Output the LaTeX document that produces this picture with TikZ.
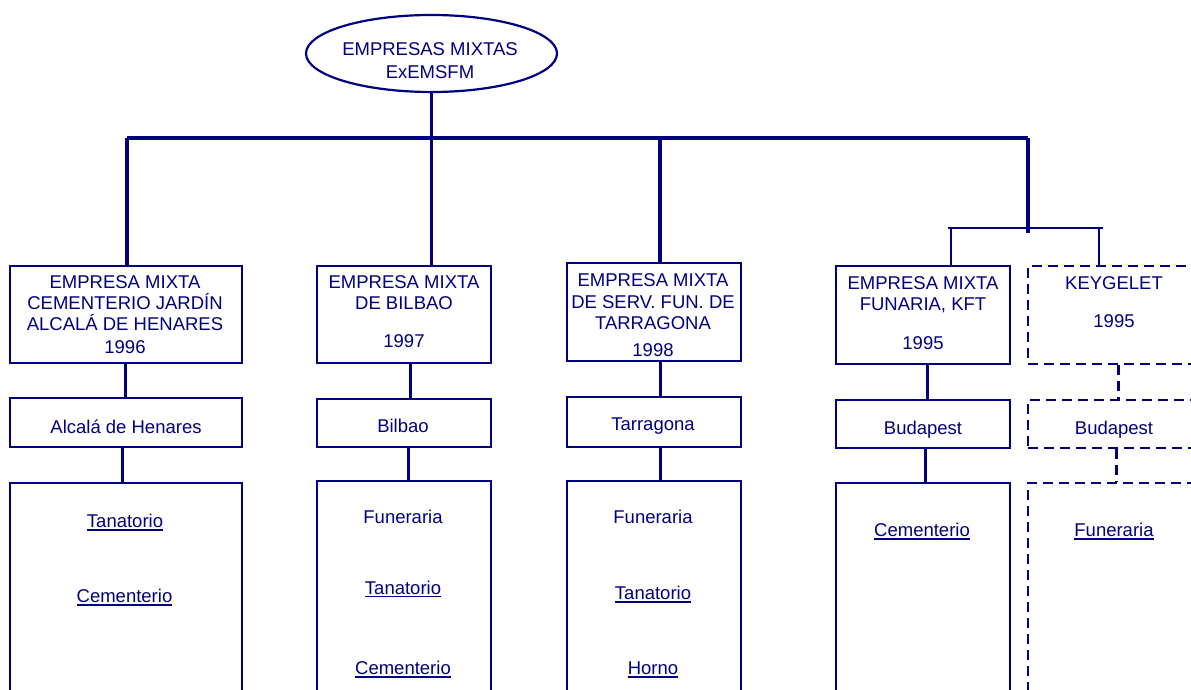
\documentclass[tikz,border=0pt]{standalone}
\usepackage{fontspec}
\setmainfont{Liberation Sans}
\usetikzlibrary{shapes.geometric}
\definecolor{navy}{RGB}{0,0,128}
\newcommand\ulnk[1]{\setbox0\hbox{#1}\rlap{\rule[-2.9pt]{\wd0}{1.5pt}}\box0}
\begin{document}
\begin{tikzpicture}[x=1pt,y=-1pt,
  box/.style={draw=navy, line width=2.9pt, rectangle, inner sep=0pt},
  dbox/.style={box, dash pattern=on 10pt off 6pt},
  lbl/.style={text=navy, font=\fontsize{18.5}{21}\selectfont, inner sep=0pt, align=center},
  one/.style={lbl, text height=13.25pt, text depth=0pt},
  ln/.style={draw=navy, line width=3pt},
  dln/.style={ln, dash pattern=on 10pt off 6pt},
  busline/.style={draw=navy, line width=3.4pt},
  subline/.style={draw=navy, line width=2.2pt}]
\useasboundingbox (0,0) rectangle (1191,690);
\clip (0,0) rectangle (1191,690);

% root
\node[ellipse, draw=navy, line width=2.2pt, minimum width=251pt, minimum height=77pt, inner sep=0pt] (E) at (431.5,53.5) {};
\node[lbl] (tE) at (430,60.75) {EMPRESAS MIXTAS\\[1.5pt]ExEMSFM};

% upper boxes
\node[box, minimum width=232pt, minimum height=97pt] (b1) at (126,314.5) {};
\node[box, minimum width=174pt, minimum height=97pt] (b2) at (404,314.5) {};
\node[box, minimum width=174pt, minimum height=98pt] (b3) at (654,312) {};
\node[box, minimum width=174pt, minimum height=98pt] (b4) at (923,315) {};
\node[dbox, minimum width=174pt, minimum height=98pt] (b5) at (1115,315) {};

\node[lbl] (t1) at (125,314.5) {EMPRESA MIXTA\\CEMENTERIO JARDÍN\\ALCALÁ DE HENARES\\[2pt]1996};
\node[lbl] (t2) at (404,311.5) {EMPRESA MIXTA\\DE BILBAO\\[17pt]1997};
\node[lbl] (t3) at (653,315) {EMPRESA MIXTA\\[1pt]DE SERV. FUN. DE\\TARRAGONA\\[6pt]1998};
\node[lbl] (t4) at (923,313) {EMPRESA MIXTA\\FUNARIA, KFT\\[18pt]1995};
\node[lbl] (t5) at (1114,302) {KEYGELET\\[17pt]1995};

% middle boxes
\node[box, minimum width=232pt, minimum height=49pt] (m1) at (126,422.5) {};
\node[box, minimum width=174pt, minimum height=48pt] (m2) at (404,423) {};
\node[box, minimum width=174pt, minimum height=50pt] (m3) at (654,422) {};
\node[box, minimum width=174pt, minimum height=48pt] (m4) at (923,424) {};
\node[dbox, minimum width=174pt, minimum height=48pt] (m5) at (1115,424) {};

\node[one] (n1) at (126,427) {Alcalá de Henares};
\node[one] (n2) at (403,426) {Bilbao};
\node[one] (n3) at (653,424) {Tarragona};
\node[one] (n4) at (923,428) {Budapest};
\node[one] (n5) at (1114,428) {Budapest};

% lower boxes
\node[box, minimum width=232pt, minimum height=237pt] (l1) at (126,601.5) {};
\node[box, minimum width=174pt, minimum height=239pt] (l2) at (404,600.5) {};
\node[box, minimum width=174pt, minimum height=239pt] (l3) at (654,600.5) {};
\node[box, minimum width=174pt, minimum height=237pt] (l4) at (923,601.5) {};
\node[dbox, minimum width=174pt, minimum height=237pt] (l5) at (1115,601.5) {};

\node[one] (k1a) at (125,521) {\ulnk{Tanatorio}};
\node[one] (k1b) at (124.5,596) {\ulnk{Cementerio}};
\node[one] (k2a) at (403,517) {Funeraria};
\node[one] (k2b) at (403,587.5) {\ulnk{Tanatorio}};
\node[one] (k2c) at (403,668) {\ulnk{Cementerio}};
\node[one] (k3a) at (653,517) {Funeraria};
\node[one] (k3b) at (653,593) {\ulnk{Tanatorio}};
\node[one] (k3c) at (653,668) {\ulnk{Horno}};
\node[one] (k4a) at (922,530) {\ulnk{Cementerio}};
\node[one] (k5a) at (1114,530) {\ulnk{Funeraria}};

% bus
\coordinate (busL) at (127,138);
\coordinate (bus3) at (660,138);
\coordinate (busR) at (1028,138);
\coordinate (tap) at (1028,233);
\coordinate (subL) at (948,228);
\coordinate (subR) at (1103,228);
\coordinate (sub4) at (951,228);
\coordinate (sub5) at (1099,228);

\draw[busline] (busL) -- (busR);
\draw[busline] (E.south) -- (E.south |- b2.north);
\draw[busline] (busL) -- (busL |- b1.north);
\draw[busline] (bus3) -- (bus3 |- b3.north);
\draw[busline] (busR) -- (tap);
\draw[subline] (subL) -- (subR);
\draw[subline] (sub4) -- (sub4 |- b4.north);
\draw[subline] (sub5) -- (sub5 |- b5.north);

% vertical connectors
\draw[ln] ([xshift=-1pt]b1.south) -- ([xshift=-1pt]b1.south |- m1.north);
\draw[ln] ([xshift=-4pt]m1.south) -- ([xshift=-4pt]m1.south |- l1.north);
\draw[ln] ([xshift=6pt]b2.south) -- ([xshift=6pt]b2.south |- m2.north);
\draw[ln] ([xshift=4pt]m2.south) -- ([xshift=4pt]m2.south |- l2.north);
\draw[ln] ([xshift=6pt]b3.south) -- ([xshift=6pt]b3.south |- m3.north);
\draw[ln] ([xshift=6pt]m3.south) -- ([xshift=6pt]m3.south |- l3.north);
\draw[ln] ([xshift=4pt]b4.south) -- ([xshift=4pt]b4.south |- m4.north);
\draw[ln] ([xshift=2pt]m4.south) -- ([xshift=2pt]m4.south |- l4.north);
\draw[dln] ([xshift=3pt]b5.south) -- ([xshift=3pt]b5.south |- m5.north);
\draw[dln] ([xshift=1pt]m5.south) -- ([xshift=1pt]m5.south |- l5.north);
\end{tikzpicture}
\end{document}
